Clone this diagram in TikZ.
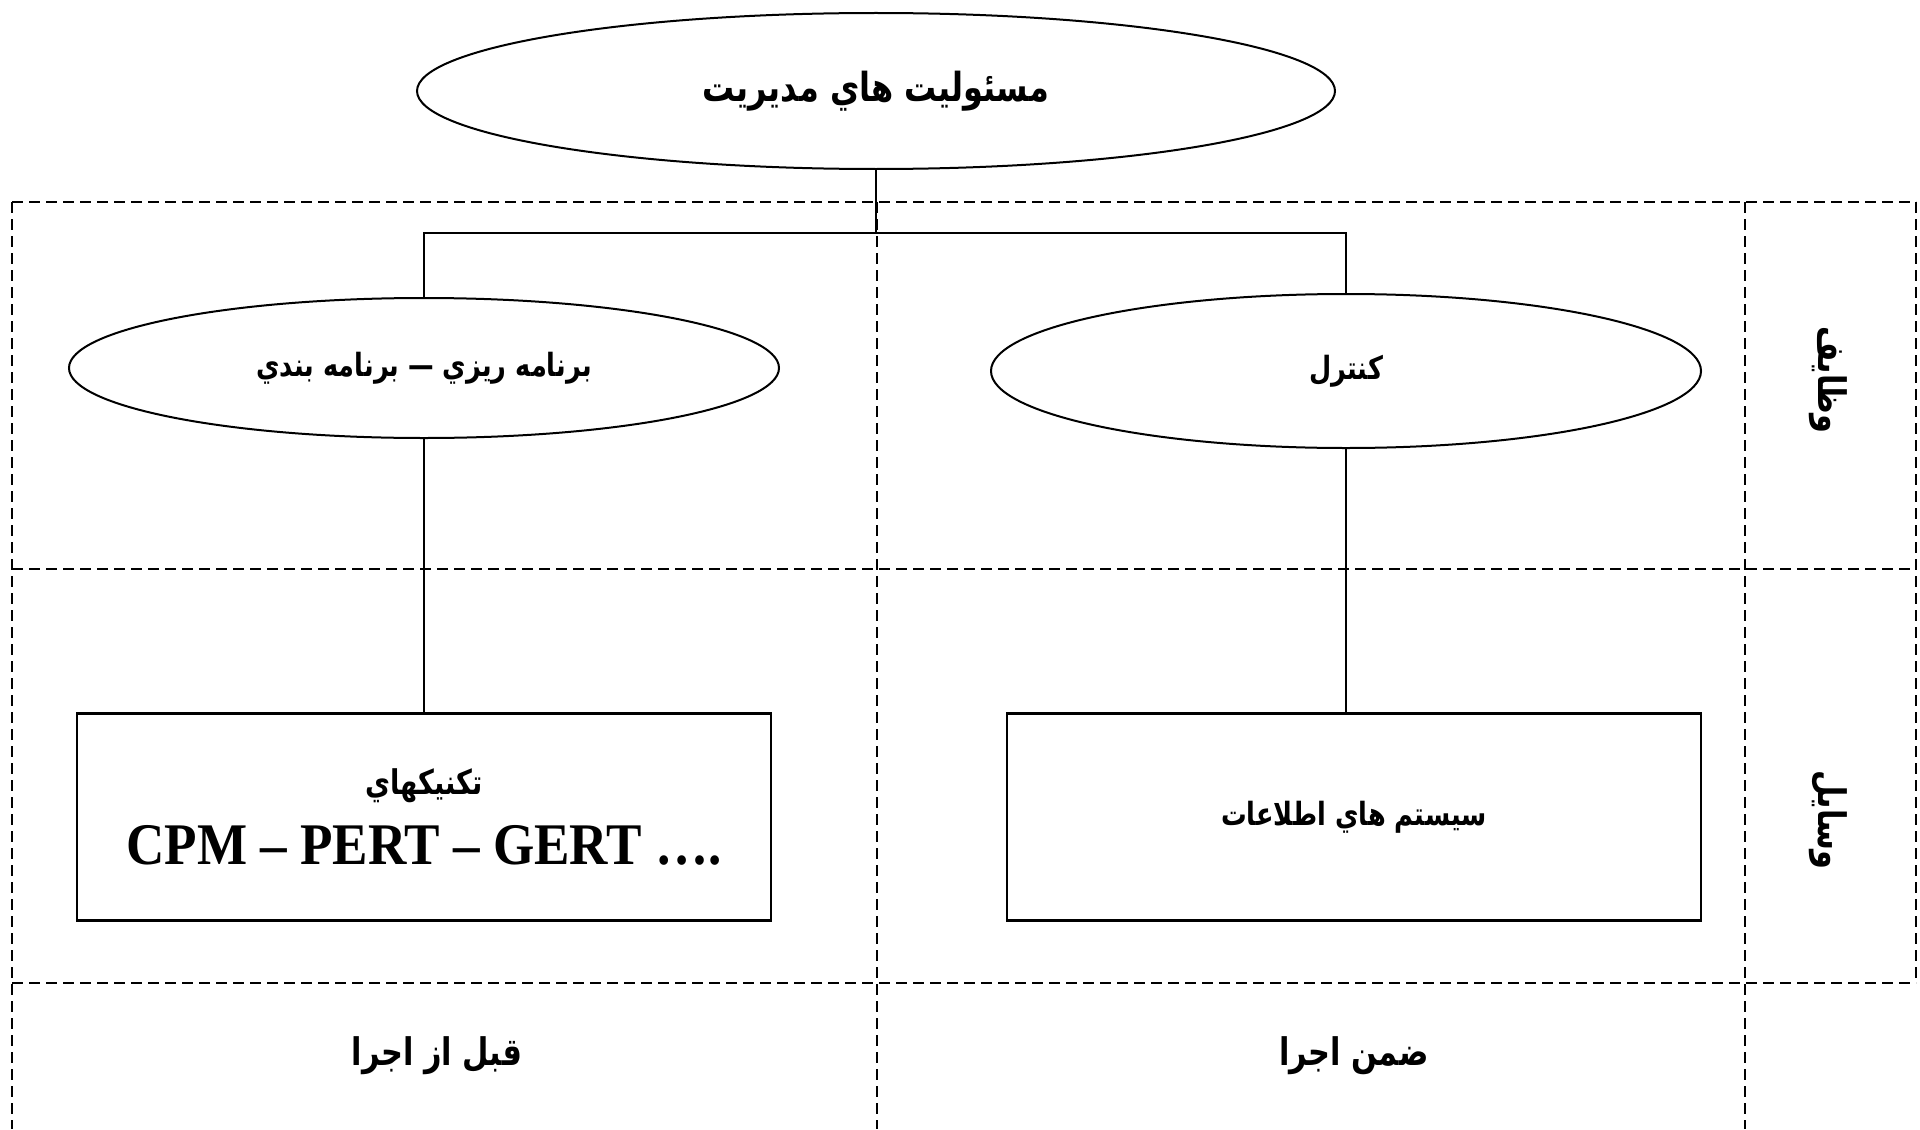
\documentclass[tikz,border=0pt]{standalone}
\usepackage{graphicx}
\usepackage{fontspec}
\setmainfont{Liberation Serif}
\newfontfamily\farsi[Script=Arabic]{DejaVu Sans}
\TeXXeTstate=1
\usetikzlibrary{shapes.geometric}

% bold Persian face at a given size
\newcommand{\fa}[1]{\farsi\bfseries\fontsize{#1}{#1}\selectfont}
% narrowed lettering
\newcommand{\narrow}[1]{\scalebox{0.8}[1]{#1}}

\begin{document}
\begin{tikzpicture}[x=0.5pt,y=-0.5pt,
  gridline/.style={line width=0.7pt, dash pattern=on 5.5pt off 3pt},
  link/.style={line width=0.8pt},
  oval/.style={ellipse, draw, line width=1pt, inner sep=0pt},
  card/.style={rectangle, draw, line width=1.3pt, inner sep=0pt, align=center},
  plain/.style={inner sep=0pt}]
\useasboundingbox (0,0) rectangle (1920,1129);

% dashed grid: rows (functions, tools, phase) and columns
\draw[gridline] (12,202) -- (1916,202);
\draw[gridline] (12,569) -- (1916,569);
\draw[gridline] (12,983) -- (1916,983);
\draw[gridline] (12,202) -- (12,1129);
\draw[gridline] (877,202) -- (877,1129);
\draw[gridline] (1745,202) -- (1745,1129);
\draw[gridline] (1916,202) -- (1916,983);

% hierarchy
\node[oval, minimum width=459pt, minimum height=78pt] (top) at (876,91)
  {\raisebox{-3pt}{\narrow{\fa{20pt}\beginR مسئوليت هاي مديريت\endR}}};
\node[oval, minimum width=355pt, minimum height=70pt] (le) at (424,368)
  {\narrow{\fa{16pt}\beginR برنامه ريزي — برنامه بندي\endR}};
\node[oval, minimum width=355pt, minimum height=77pt] (re) at (1346,371)
  {\narrow{\fa{16pt}\beginR كنترل\endR}};
\node[card, minimum width=347pt, minimum height=103.5pt] (lb) at (424,817)
  {\narrow{\fa{17pt}\beginR تكنيكهاي\endR}\\[10pt]
   \scalebox{0.9}[1]{\bfseries\fontsize{29.5pt}{29.5pt}\selectfont CPM – PERT – GERT ….}};
\node[card, minimum width=347pt, minimum height=103.5pt] (rb) at (1354,817)
  {\narrow{\fa{16pt}\beginR سيستم هاي اطلاعات\endR}};

\coordinate (hub) at (876,233);
\draw[link] (top.south) -- (hub) -| (le.north);
\draw[link] (hub) -| (re.north);
\draw[link] (le.south) -- (le.south |- lb.north);
\draw[link] (re.south) -- (re.south |- rb.north);

% row and column captions
\node[plain, rotate=-90] (funcs) at (1828,380) {\narrow{\fa{19pt}\beginR وظايف\endR}};
\node[plain, rotate=-90] (tools) at (1828,820) {\narrow{\fa{19pt}\beginR وسايل\endR}};
\node[plain] (before) at (437,1056) {\narrow{\fa{19pt}\beginR قبل از اجرا\endR}};
\node[plain] (during) at (1354,1056) {\narrow{\fa{19pt}\beginR ضمن اجرا\endR}};
\end{tikzpicture}
\end{document}
